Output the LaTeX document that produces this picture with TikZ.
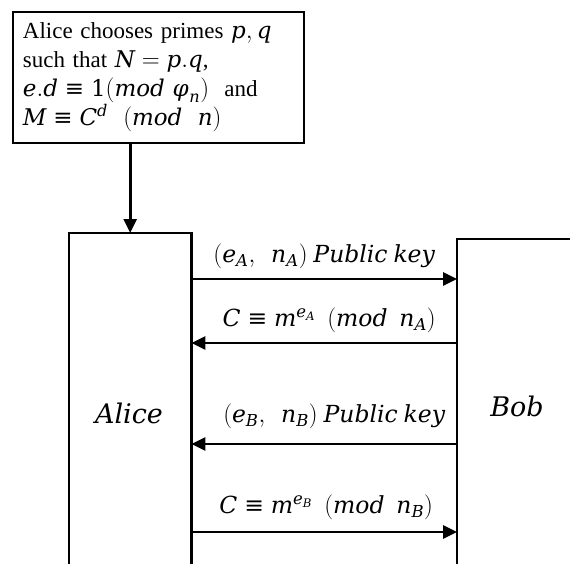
\documentclass[tikz,border=0pt]{standalone}
\usepackage{mathspec}
\setmainfont{Liberation Serif}
\setmathsfont(Digits,Latin,Greek){DejaVu Serif}
\newfontfamily\symfont{DejaVu Serif}
\newcommand{\eqv}{\mathrel{\mbox{\symfont ≡}}}
\usetikzlibrary{arrows.meta}
\tikzset{
  note/.style={draw, line width=1.8pt, anchor=north west, align=left,
    text width=277pt, minimum height=131pt, inner xsep=7pt, inner ysep=11pt,
    font=\fontsize{23}{29}\selectfont},
  party/.style={draw=none, anchor=north west, inner sep=0pt},
  side/.style={line width=2.6pt, line cap=rect},
  msg/.style={line width=2.6pt, -{Triangle[length=14pt,width=13pt]}},
  lbl/.style={font=\fontsize{23.5}{24}\selectfont, inner sep=0pt},
  who/.style={font=\fontsize{27}{30}\selectfont, inner sep=0pt}
}
\begin{document}
\begin{tikzpicture}[x=1pt,y=-1pt]
  \useasboundingbox (0,0) rectangle (570,563);
  % key generation note
  \node[note] (keys) at (12,11) {\hspace*{3pt}Alice chooses primes $p,q$\\
    \hspace*{3pt}such that $N=p.q$,\\
    \hspace*{3pt}$e.d\eqv 1(mod\ \phi_n)$\ \ and\\
    \hspace*{3pt}$M\eqv C^d\ \ (mod\ \ n)$};
  % the two parties, open at the bottom / right
  \node[party, minimum width=122pt, minimum height=335pt] (alice) at (69,233) {};
  \node[party, minimum width=120pt, minimum height=329pt] (bob) at (457,239) {};
  \draw[side] (alice.south west) -- (alice.north west) -- (alice.north east) -- (alice.south east);
  \draw[side] (bob.south west) -- (bob.north west) -- (bob.north east);
  \node[who] (aname) at (129,413) {$Alice$};
  \node[who] (bname) at (517,406) {$Bob$};
  % note feeds Alice
  \draw[msg] (keys.south -| alice.north) -- (alice.north);
  % message rows
  \coordinate (r1) at (0,279);
  \coordinate (r2) at (0,343);
  \coordinate (r3) at (0,444);
  \coordinate (r4) at (0,532);
  \draw[msg] (alice.east |- r1) -- node[lbl, above=9pt] (l1) {$(e_A,\ \ n_A)\ Public\ key$} (bob.west |- r1);
  \draw[msg] (bob.west |- r2) -- node[lbl, above=9pt, xshift=5pt] (l2) {$C\eqv m^{e_A}\ \ (mod\ \ n_A)$} (alice.east |- r2);
  \draw[msg] (bob.west |- r3) -- node[lbl, above=14pt, xshift=10pt] (l3) {$(e_B,\ \ n_B)\ Public\ key$} (alice.east |- r3);
  \draw[msg] (alice.east |- r4) -- node[lbl, above=11pt, xshift=2pt] (l4) {$C\eqv m^{e_B}\ \ (mod\ \ n_B)$} (bob.west |- r4);
\end{tikzpicture}
\end{document}
